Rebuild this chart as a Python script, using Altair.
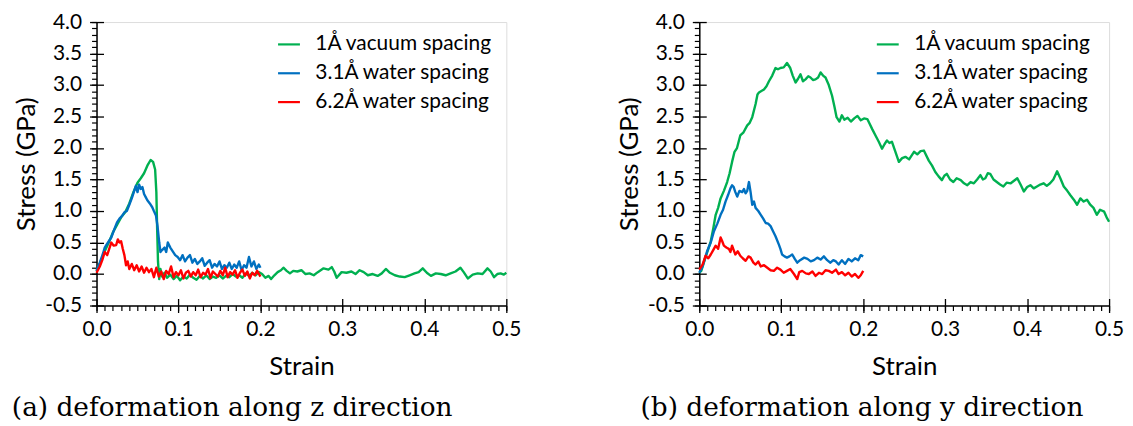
import altair as alt
import pandas as pd

series_names = ["1Å vacuum spacing", "3.1Å water spacing", "6.2Å water spacing"]
series_colors = ["#00B050", "#0070C0", "#FF0000"]

# (a) deformation along z direction: (strain, stress GPa)
z_vacuum = [(0, 0.05), (0.005, 0.2), (0.01, 0.36), (0.015, 0.5), (0.02, 0.66), (0.025, 0.78), (0.03, 0.9),
            (0.035, 0.98), (0.04, 1.12), (0.045, 1.3), (0.05, 1.45), (0.054, 1.52), (0.058, 1.6), (0.062, 1.72),
            (0.066, 1.81), (0.069, 1.78), (0.0715, 1.66), (0.073, 1.3), (0.074, 0.7), (0.075, 0.2), (0.0765, -0.08),
            (0.078, 0.08), (0.08, -0.04), (0.083, 0.02), (0.086, -0.06), (0.09, -0.01), (0.094, -0.08),
            (0.098, -0.03), (0.102, -0.1), (0.106, -0.04), (0.11, -0.07), (0.114, -0.01), (0.118, -0.06),
            (0.122, -0.09), (0.126, -0.03), (0.13, -0.07), (0.134, -0.02), (0.138, -0.08), (0.142, -0.04),
            (0.146, -0.06), (0.15, -0.02), (0.154, -0.07), (0.158, -0.03), (0.162, -0.05), (0.166, 0.0),
            (0.17, -0.04), (0.174, -0.02), (0.178, -0.06), (0.182, 0.01), (0.186, -0.03), (0.19, 0.02),
            (0.194, -0.02), (0.198, 0.03), (0.202, 0.0), (0.206, -0.06), (0.21, -0.03), (0.213, -0.08),
            (0.217, -0.02), (0.221, 0.03), (0.225, 0.06), (0.228, 0.1), (0.232, 0.05), (0.236, 0.01), (0.24, 0.05),
            (0.245, 0.04), (0.25, 0.06), (0.255, 0.0), (0.26, 0.01), (0.265, -0.02), (0.27, 0.03), (0.277, 0.09),
            (0.283, 0.07), (0.287, 0.11), (0.29, 0.04), (0.293, -0.06), (0.299, 0.03), (0.305, 0.02),
            (0.311, 0.04), (0.316, 0.0), (0.321, 0.06), (0.326, 0.03), (0.331, -0.02), (0.337, 0.0),
            (0.343, -0.03), (0.348, 0.01), (0.353, 0.08), (0.358, 0.02), (0.364, -0.02), (0.37, -0.04),
            (0.376, -0.05), (0.382, -0.02), (0.388, 0.01), (0.393, 0.03), (0.398, 0.09), (0.403, 0.02),
            (0.408, -0.03), (0.414, 0.01), (0.42, 0.0), (0.426, -0.02), (0.432, 0.01), (0.438, 0.04),
            (0.444, 0.1), (0.448, 0.03), (0.453, -0.07), (0.459, -0.01), (0.465, 0.01), (0.471, 0.0),
            (0.477, 0.09), (0.481, 0.04), (0.485, -0.05), (0.489, 0.0), (0.493, 0.01), (0.497, -0.01), (0.5, 0.02)]

z_water31 = [(0, 0.05), (0.004, 0.18), (0.008, 0.33), (0.01, 0.42), (0.014, 0.5), (0.018, 0.58), (0.022, 0.72),
             (0.025, 0.82), (0.028, 0.88), (0.031, 0.92), (0.034, 0.98), (0.037, 1.0), (0.04, 1.1), (0.043, 1.2),
             (0.046, 1.32), (0.048, 1.4), (0.05, 1.3), (0.052, 1.42), (0.054, 1.35), (0.056, 1.38), (0.058, 1.27),
             (0.06, 1.22), (0.062, 1.17), (0.065, 1.12), (0.068, 1.06), (0.07, 1.0), (0.0725, 0.93), (0.0745, 0.75),
             (0.0765, 0.5), (0.078, 0.35), (0.08, 0.38), (0.083, 0.42), (0.085, 0.35), (0.087, 0.5), (0.09, 0.42),
             (0.093, 0.36), (0.096, 0.3), (0.099, 0.27), (0.102, 0.22), (0.105, 0.3), (0.108, 0.2), (0.111, 0.26),
             (0.114, 0.3), (0.117, 0.18), (0.12, 0.24), (0.123, 0.16), (0.126, 0.2), (0.129, 0.25), (0.132, 0.13),
             (0.135, 0.18), (0.138, 0.22), (0.141, 0.1), (0.144, 0.16), (0.147, 0.12), (0.15, 0.2), (0.153, 0.08),
             (0.156, 0.14), (0.159, 0.1), (0.162, 0.18), (0.165, 0.08), (0.168, 0.15), (0.171, 0.1), (0.174, 0.2),
             (0.177, 0.06), (0.18, 0.14), (0.183, 0.1), (0.186, 0.27), (0.189, 0.12), (0.192, 0.2), (0.195, 0.08),
             (0.198, 0.15), (0.2, 0.1)]

z_water62 = [(0, 0.02), (0.004, 0.12), (0.007, 0.22), (0.01, 0.35), (0.013, 0.3), (0.016, 0.42), (0.018, 0.5),
             (0.021, 0.45), (0.024, 0.46), (0.026, 0.55), (0.028, 0.5), (0.03, 0.52), (0.032, 0.4), (0.034, 0.3),
             (0.036, 0.14), (0.038, 0.2), (0.04, 0.08), (0.043, 0.16), (0.046, 0.06), (0.049, 0.14), (0.052, 0.04),
             (0.055, 0.12), (0.058, 0.02), (0.061, 0.1), (0.064, 0.03), (0.067, 0.08), (0.07, -0.05), (0.073, 0.1),
             (0.076, -0.04), (0.079, 0.04), (0.082, -0.08), (0.085, 0.05), (0.088, 0.0), (0.091, 0.12),
             (0.094, -0.05), (0.097, 0.03), (0.1, -0.02), (0.103, 0.06), (0.106, -0.07), (0.109, 0.02),
             (0.112, 0.05), (0.115, -0.04), (0.118, 0.03), (0.121, -0.02), (0.124, 0.07), (0.127, -0.05),
             (0.13, 0.02), (0.133, -0.01), (0.136, 0.08), (0.139, -0.06), (0.142, 0.04), (0.145, 0.0),
             (0.148, -0.04), (0.151, 0.05), (0.154, -0.02), (0.157, 0.1), (0.16, -0.05), (0.163, 0.03),
             (0.166, -0.01), (0.169, 0.06), (0.172, -0.06), (0.175, 0.02), (0.178, 0.07), (0.181, -0.03),
             (0.184, 0.04), (0.187, -0.07), (0.19, 0.02), (0.193, -0.02), (0.196, 0.05), (0.2, -0.04)]

# (b) deformation along y direction: (strain, stress GPa)
y_vacuum = [(0, 0.02), (0.0024, 0.05), (0.006, 0.2), (0.01, 0.36), (0.014, 0.52), (0.017, 0.72), (0.02, 0.94),
            (0.023, 1.05), (0.026, 1.2), (0.03, 1.32), (0.034, 1.46), (0.037, 1.6), (0.04, 1.78), (0.043, 1.94),
            (0.046, 2.0), (0.05, 2.2), (0.054, 2.25), (0.0585, 2.36), (0.0615, 2.4), (0.0646, 2.49),
            (0.0687, 2.7), (0.071, 2.85), (0.0728, 2.88), (0.0789, 2.93), (0.082, 2.98), (0.085, 3.06),
            (0.089, 3.15), (0.093, 3.27), (0.096, 3.25), (0.099, 3.27), (0.103, 3.28), (0.107, 3.35),
            (0.111, 3.27), (0.114, 3.15), (0.1175, 3.04), (0.1205, 3.1), (0.1235, 3.17), (0.1265, 3.06),
            (0.1296, 3.09), (0.133, 3.14), (0.1357, 3.12), (0.1387, 3.08), (0.1418, 3.09), (0.145, 3.12),
            (0.148, 3.2), (0.151, 3.15), (0.154, 3.12), (0.158, 3.0), (0.162, 2.83), (0.165, 2.65),
            (0.1675, 2.49), (0.171, 2.42), (0.174, 2.52), (0.177, 2.45), (0.181, 2.48), (0.185, 2.42),
            (0.189, 2.47), (0.193, 2.51), (0.197, 2.44), (0.201, 2.47), (0.205, 2.46), (0.208, 2.38),
            (0.211, 2.3), (0.215, 2.2), (0.219, 2.1), (0.223, 1.99), (0.226, 2.06), (0.229, 2.12),
            (0.232, 2.08), (0.235, 2.1), (0.239, 1.95), (0.2435, 1.78), (0.2475, 1.84), (0.2515, 1.86),
            (0.256, 1.82), (0.262, 1.94), (0.266, 1.9), (0.27, 1.95), (0.274, 1.96), (0.28, 1.8), (0.284, 1.72),
            (0.288, 1.62), (0.292, 1.55), (0.296, 1.49), (0.299, 1.56), (0.302, 1.59), (0.306, 1.5),
            (0.31, 1.46), (0.314, 1.52), (0.319, 1.49), (0.323, 1.44), (0.327, 1.41), (0.331, 1.46),
            (0.335, 1.44), (0.339, 1.5), (0.343, 1.57), (0.346, 1.5), (0.349, 1.52), (0.352, 1.6),
            (0.355, 1.59), (0.359, 1.5), (0.363, 1.46), (0.367, 1.42), (0.371, 1.39), (0.375, 1.45),
            (0.38, 1.44), (0.384, 1.48), (0.388, 1.52), (0.392, 1.42), (0.396, 1.31), (0.4, 1.38),
            (0.404, 1.41), (0.408, 1.36), (0.412, 1.39), (0.416, 1.42), (0.42, 1.44), (0.424, 1.4),
            (0.428, 1.44), (0.432, 1.5), (0.4366, 1.63), (0.4405, 1.52), (0.4447, 1.39), (0.449, 1.32),
            (0.4528, 1.25), (0.457, 1.18), (0.461, 1.1), (0.465, 1.2), (0.469, 1.15), (0.473, 1.18),
            (0.477, 1.1), (0.481, 1.05), (0.485, 0.94), (0.489, 1.02), (0.494, 0.99), (0.497, 0.9), (0.5, 0.83)]

y_water31 = [(0, 0.02), (0.004, 0.12), (0.0098, 0.37), (0.014, 0.5), (0.0179, 0.68), (0.022, 0.8), (0.026, 0.94),
             (0.029, 1.02), (0.032, 1.15), (0.035, 1.25), (0.038, 1.36), (0.04, 1.41), (0.042, 1.38), (0.044, 1.3),
             (0.0463, 1.23), (0.049, 1.32), (0.0524, 1.3), (0.0545, 1.35), (0.0565, 1.28), (0.0585, 1.32),
             (0.0606, 1.46), (0.0626, 1.3), (0.0646, 1.1), (0.0667, 1.15), (0.0687, 1.05), (0.072, 1.0),
             (0.075, 0.94), (0.078, 0.88), (0.081, 0.81), (0.084, 0.8), (0.087, 0.76), (0.09, 0.68), (0.093, 0.6),
             (0.097, 0.47), (0.099, 0.4), (0.101, 0.31), (0.104, 0.28), (0.107, 0.26), (0.11, 0.28),
             (0.1134, 0.31), (0.1165, 0.24), (0.1195, 0.18), (0.123, 0.22), (0.128, 0.26), (0.132, 0.24),
             (0.136, 0.2), (0.14, 0.22), (0.144, 0.26), (0.148, 0.23), (0.152, 0.28), (0.156, 0.22), (0.16, 0.18),
             (0.1635, 0.22), (0.1667, 0.2), (0.17, 0.15), (0.174, 0.22), (0.178, 0.16), (0.182, 0.24),
             (0.186, 0.2), (0.19, 0.25), (0.194, 0.22), (0.197, 0.3), (0.2, 0.28)]

y_water62 = [(0, 0.07), (0.004, 0.15), (0.0077, 0.29), (0.011, 0.25), (0.014, 0.31), (0.017, 0.38), (0.02, 0.45),
             (0.023, 0.4), (0.026, 0.58), (0.028, 0.52), (0.03, 0.45), (0.033, 0.42), (0.036, 0.4), (0.038, 0.35),
             (0.04, 0.45), (0.042, 0.38), (0.044, 0.31), (0.047, 0.36), (0.05, 0.29), (0.053, 0.25),
             (0.0565, 0.21), (0.06, 0.28), (0.0626, 0.26), (0.066, 0.18), (0.0687, 0.15), (0.072, 0.2),
             (0.075, 0.12), (0.079, 0.14), (0.083, 0.1), (0.087, 0.06), (0.091, 0.05), (0.095, 0.1),
             (0.099, 0.07), (0.103, 0.02), (0.107, 0.05), (0.111, 0.08), (0.1155, 0.0), (0.1195, -0.08),
             (0.122, 0.03), (0.1256, 0.05), (0.13, 0.01), (0.1337, 0.0), (0.138, 0.04), (0.1418, -0.03),
             (0.146, 0.02), (0.15, 0.0), (0.154, 0.06), (0.158, 0.05), (0.162, 0.02), (0.1667, 0.07), (0.17, 0.0),
             (0.174, 0.03), (0.178, -0.02), (0.182, 0.02), (0.186, -0.04), (0.19, 0.0), (0.194, -0.06),
             (0.197, -0.02), (0.2, 0.05)]

x_major = [0.0, 0.1, 0.2, 0.3, 0.4, 0.5]
y_major = [-0.5, 0.0, 0.5, 1.0, 1.5, 2.0, 2.5, 3.0, 3.5, 4.0]
x_minor = [round(i * 0.01, 2) for i in range(51)]
y_minor = [round(-0.5 + i * 0.1, 1) for i in range(46)]

captions = ["(a) deformation along z direction", "(b) deformation along y direction"]

FONT = "Lato"
LABEL_EXPR = "replace(format(datum.value, '.1f'), '\u2212', '-')"

X_SCALE = alt.Scale(domain=[0, 0.5], nice=False, zero=False)
Y_SCALE = alt.Scale(domain=[-0.5, 4.0], nice=False, zero=False)


def major_axis(orient, values, title, label_pad, title_pad, dash):
    return alt.Axis(
        orient=orient, values=values, labelExpr=LABEL_EXPR,
        tickSize=7, tickColor="black", tickWidth=1.3,
        grid=True, gridColor="black", gridWidth=1.3, gridDash=dash,
        domainColor="black", domainWidth=1.5,
        labelFont=FONT, labelFontSize=21, labelColor="black", labelFlush=False,
        labelOverlap=False, labelPadding=label_pad,
        title=title, titleFont=FONT, titleFontSize=26, titleFontWeight="normal",
        titleColor="black", titlePadding=title_pad,
    )


def minor_axis(orient, values):
    return alt.Axis(
        orient=orient, values=values, labels=False, tickSize=5, tickColor="black",
        tickWidth=1.2, domain=False, grid=False, title=None,
    )


def panel(series_data, caption, legend_x, cap_dx):
    layers = []
    frames = []
    for i, (pairs, name) in enumerate(zip(series_data, series_names)):
        df = pd.DataFrame({
            "strain": [p[0] for p in pairs],
            "stress": [p[1] for p in pairs],
            "series": name,
        })
        frames.append(df)
        if i == 0:
            x_enc = alt.X("strain:Q", scale=X_SCALE,
                          axis=major_axis("bottom", x_major, "Strain", 6, 14, [0, 278, 7, 4000]))
            y_enc = alt.Y("stress:Q", scale=Y_SCALE,
                          axis=major_axis("left", y_major, "Stress (GPa)", 8, 5, [7, 4000]))
        else:
            x_enc = alt.X("strain:Q", scale=X_SCALE, axis=None)
            y_enc = alt.Y("stress:Q", scale=Y_SCALE, axis=None)
        layers.append(
            alt.Chart(df).mark_line(strokeWidth=2.4, strokeJoin="round").encode(
                x=x_enc,
                y=y_enc,
                color=alt.Color("series:N",
                                scale=alt.Scale(domain=series_names, range=series_colors),
                                legend=alt.Legend(
                                    title=None, orient="none", legendX=legend_x, legendY=10,
                                    labelFont=FONT, labelFontSize=21, labelColor="black", labelLimit=0,
                                    symbolType="stroke", symbolSize=484, symbolStrokeWidth=2.2,
                                    labelOffset=14, rowPadding=6, padding=0,
                                )),
            )
        )
    minor = alt.Chart(frames[0]).mark_line(opacity=0).encode(
        x=alt.X("strain:Q", scale=X_SCALE, axis=minor_axis("bottom", x_minor)),
        y=alt.Y("stress:Q", scale=Y_SCALE, axis=minor_axis("left", y_minor)),
    )
    return alt.layer(*layers, minor).resolve_axis(x="independent", y="independent").properties(
        width=412, height=285,
        title=alt.TitleParams(
            caption, orient="bottom", anchor="start", frame="bounds",
            font="DejaVu Serif", fontSize=26.5, fontWeight="normal", color="black",
            offset=16, dx=cap_dx,
        ),
    )


left = panel([z_vacuum, z_water31, z_water62], captions[0], 181, -2)
right = panel([y_vacuum, y_water31, y_water62], captions[1], 177, 24)

chart = alt.hconcat(left, right, spacing=94).resolve_scale(color="independent").resolve_legend(
    color="independent"
).properties(
    padding={"left": 3, "top": 1, "right": 0, "bottom": 0}
).configure_axis(
    titleFont=FONT, titleFontWeight="normal", titleFontSize=26, titleColor="black",
    labelFont=FONT, labelColor="black",
).configure_view(stroke="black", strokeWidth=1.5).configure(background="white")

chart.save("out.html", embed_options={"renderer": "svg", "actions": False})
